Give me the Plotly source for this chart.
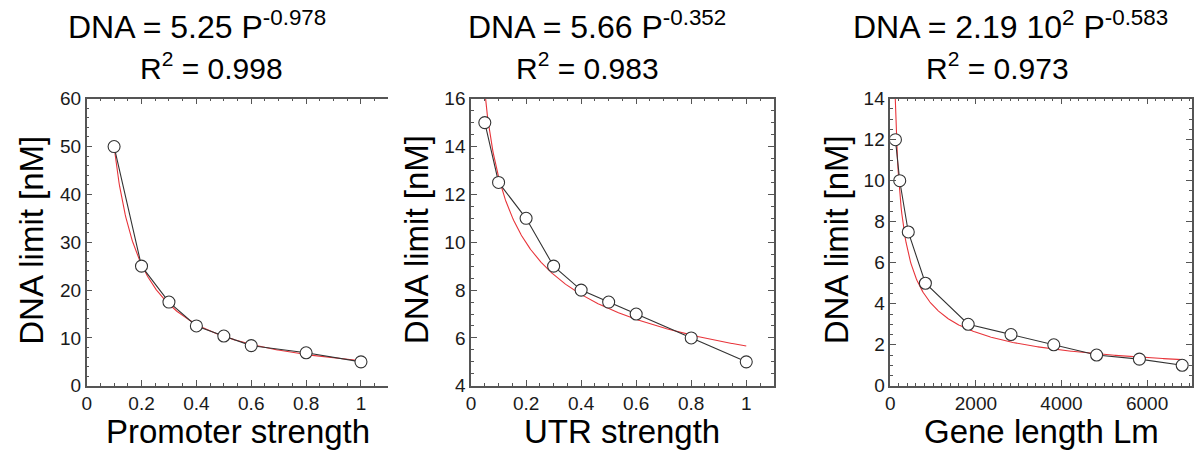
import numpy as np
import plotly.graph_objects as go

# ---- data ----
promoter_x = [0.1, 0.2, 0.3, 0.4, 0.5, 0.6, 0.8, 1.0]
promoter_y = [50, 25, 17.5, 12.5, 10.4, 8.4, 6.9, 5.0]
promoter_fit = (5.25, -0.978)  # coefficient, exponent (from title)

utr_x = [0.05, 0.1, 0.2, 0.3, 0.4, 0.5, 0.6, 0.8, 1.0]
utr_y = [15, 12.5, 11, 9, 8, 7.5, 7, 6, 5]
utr_fit = (5.66, -0.352)

gene_x = [120, 220, 420, 820, 1820, 2820, 3820, 4820, 5820, 6820]
gene_y = [12, 10, 7.5, 5, 3, 2.5, 2, 1.5, 1.3, 1]
gene_fit = (219.0, -0.583)

titles_l1 = ["DNA = 5.25 P<sup>-0.978</sup>", "DNA = 5.66 P<sup>-0.352</sup>",
             "DNA = 2.19 10<sup>2</sup> P<sup>-0.583</sup>"]
titles_l2 = ["R<sup>2</sup> = 0.998", "R<sup>2</sup> = 0.983", "R<sup>2</sup> = 0.973"]
x_titles = ["Promoter strength", "UTR strength", "Gene length Lm"]
y_title = "DNA limit [nM]"

W, H = 1200, 454
FONT = "Liberation Sans, Arial, sans-serif"
AX = "#555555"
TXT = "#1a1a1a"

panels = [
    dict(x=promoter_x, y=promoter_y, fit=promoter_fit, fitx=(0.1, 1.0),
         px=(82, 385), xr=[0, 1.1], xd=0.2, xm=0.05, yr=[0, 60], yd=10, ym=2,
         t1=193, t2=207, ytx=27),
    dict(x=utr_x, y=utr_y, fit=utr_fit, fitx=(0.045, 1.0),
         px=(468, 772), xr=[0, 1.1], xd=0.2, xm=0.05, yr=[4, 16], yd=2, ym=0.5,
         t1=594, t2=585, ytx=414),
    dict(x=gene_x, y=gene_y, fit=gene_fit, fitx=(100, 6820),
         px=(889, 1192), xr=[0, 7050], xd=2000, xm=200, yr=[0, 14], yd=2, ym=0.5,
         t1=1010, t2=997, ytx=835),
]

top_px, bot_px = 93, 394
ydom = [1 - bot_px / H, 1 - top_px / H]

fig = go.Figure()
annotations = []
for i, p in enumerate(panels, start=1):
    xa = "x" if i == 1 else f"x{i}"
    ya = "y" if i == 1 else f"y{i}"
    # fit curve from the displayed fit parameters
    fx = np.linspace(p["fitx"][0], p["fitx"][1], 400)
    fy = p["fit"][0] * fx ** p["fit"][1]
    fig.add_trace(go.Scatter(x=fx, y=fy, mode="lines", xaxis=xa, yaxis=ya,
                             line=dict(color="#e8343a", width=1.1),
                             showlegend=False, hoverinfo="skip"))
    fig.add_trace(go.Scatter(x=p["x"], y=p["y"], mode="lines+markers", xaxis=xa, yaxis=ya,
                             line=dict(color="#333333", width=1.1),
                             marker=dict(symbol="circle", size=12, color="white",
                                         line=dict(color="#333333", width=1.1)),
                             showlegend=False, cliponaxis=True))
    xkey = "xaxis" if i == 1 else f"xaxis{i}"
    ykey = "yaxis" if i == 1 else f"yaxis{i}"
    common = dict(showgrid=False, zeroline=False, showline=True, linecolor=AX, linewidth=1.5,
                  ticks="inside", ticklen=6, tickwidth=1.2, tickcolor=AX,
                  tickfont=dict(family=FONT, size=19, color=TXT))
    fig.update_layout({
        xkey: dict(domain=[p["px"][0] / W, p["px"][1] / W], range=p["xr"], anchor=ya,
                   tick0=0, dtick=p["xd"], mirror="ticks",
                   minor=dict(dtick=p["xm"], tick0=0, ticks="inside", ticklen=3,
                              tickcolor=AX, tickwidth=1),
                   **common),
        ykey: dict(domain=ydom, range=p["yr"], anchor=xa,
                   tick0=p["yr"][0], dtick=p["yd"], mirror=("ticks" if i > 1 else False),
                   minor=dict(dtick=p["ym"], tick0=p["yr"][0], ticks="inside", ticklen=3,
                              tickcolor=AX, tickwidth=1),
                   **common),
    })
    cx = (p["px"][0] + p["px"][1]) / 2 / W
    annotations.append(dict(text=titles_l1[i - 1], x=p["t1"] / W, y=1 - 16 / H,
                            xref="paper", yref="paper", showarrow=False,
                            xanchor="center", yanchor="middle",
                            font=dict(family=FONT, size=32, color="black")))
    annotations.append(dict(text=titles_l2[i - 1], x=p["t2"] / W, y=1 - 59 / H,
                            xref="paper", yref="paper", showarrow=False,
                            xanchor="center", yanchor="middle",
                            font=dict(family=FONT, size=30, color="black")))
    annotations.append(dict(text=x_titles[i - 1], x=cx, y=1 - 442 / H,
                            xref="paper", yref="paper", showarrow=False,
                            xanchor="center", yanchor="middle",
                            font=dict(family=FONT, size=33, color="black")))
    annotations.append(dict(text=y_title, x=p["ytx"] / W, y=1 - 241 / H,
                            xref="paper", yref="paper", showarrow=False, textangle=-90,
                            xanchor="center", yanchor="middle",
                            font=dict(family=FONT, size=33, color="black")))

# right-side ticks (no line) for the first panel
fig.update_layout(yaxis4=dict(overlaying="y", anchor="x", side="right", range=panels[0]["yr"],
                              showline=False, showgrid=False, zeroline=False,
                              showticklabels=False, ticks="inside", ticklen=6, tickwidth=1.2,
                              tickcolor=AX, tick0=0, dtick=10,
                              minor=dict(dtick=2, tick0=0, ticks="inside", ticklen=3,
                                         tickcolor=AX, tickwidth=1)))

fig.update_layout(width=W, height=H, margin=dict(l=0, r=0, t=0, b=0),
                  paper_bgcolor="white", plot_bgcolor="white",
                  annotations=annotations, font=dict(family=FONT))
fig.write_html("out.html")
